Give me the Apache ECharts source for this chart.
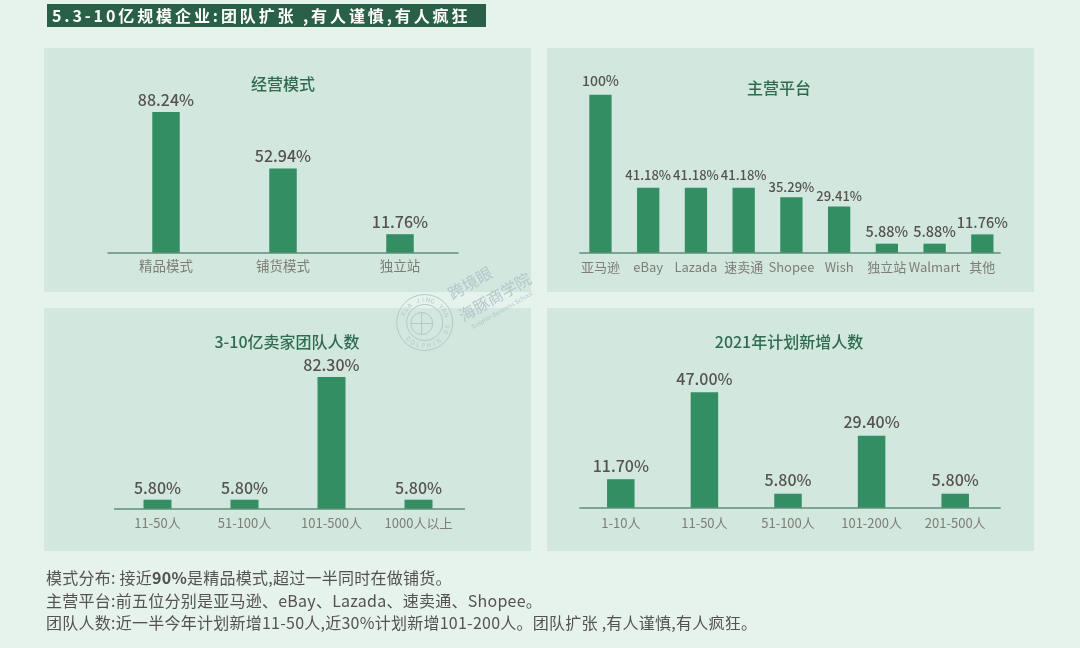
<!DOCTYPE html>
<html>
<head>
<meta charset="utf-8">
<title>5.3-10亿规模企业</title>
<script src="https://cdn.jsdelivr.net/npm/echarts@6/dist/echarts.min.js"></script>
<style>
  html, body { margin: 0; padding: 0; background: #e6f3ec; }
  body { width: 1080px; height: 648px; position: relative; overflow: hidden; font-family: "Noto Sans CJK SC", sans-serif; }
  #chart { position: absolute; left: 0; top: 0; width: 1080px; height: 648px; }
  #banner {
    position: absolute; left: 47px; top: 4px; width: 434px; height: 23px; padding-left: 5px;
    background: #2b6048; color: #fff; font-size: 16px; font-weight: 700; line-height: 23px;
    letter-spacing: 2.9px; white-space: pre;
  }
  #notes {
    position: absolute; left: 46px; top: 566px; color: #55524f; font-size: 16px;
    line-height: 22.5px; letter-spacing: 0.25px; white-space: pre;
  }
  #notes b { font-weight: 700; }
</style>
</head>
<body>
<div id="chart"></div>
<div id="banner">5.3-10亿规模企业:团队扩张 ,有人谨慎,有人疯狂</div>
<div id="notes">模式分布: 接近<b>90%</b>是精品模式,超过一半同时在做铺货。
主营平台:前五位分别是亚马逊、eBay、Lazada、速卖通、Shopee。
团队人数:近一半今年计划新增11-50人,近30%计划新增101-200人。团队扩张 ,有人谨慎,有人疯狂。</div>
<script>
// 数据
const modeNames = ['精品模式', '铺货模式', '独立站']
const modeValues = [88.24, 52.94, 11.76]

const platformNames = ['亚马逊', 'eBay', 'Lazada', '速卖通', 'Shopee', 'Wish', '独立站', 'Walmart', '其他']
const platformValues = [100, 41.18, 41.18, 41.18, 35.29, 29.41, 5.88, 5.88, 11.76]
const platformLabelSizes = [14, 13, 13, 13, 13, 13, 14.5, 14.5, 14.5]
const platformLabelGaps = [7, 6, 6, 6, 4, 4, 5, 5, 5]

const teamNames = ['11-50人', '51-100人', '101-500人', '1000人以上']
const teamValues = [5.8, 5.8, 82.3, 5.8]

const hireNames = ['1-10人', '11-50人', '51-100人', '101-200人', '201-500人']
const hireValues = [11.7, 47, 5.8, 29.4, 5.8]

const myChart = echarts.init(document.getElementById('chart'))

const FONT = '"Noto Sans CJK SC", sans-serif'

// 四个面板的布局
const panels = [
  { title: '经营模式', names: modeNames, values: modeValues, box: [44, 48, 487, 244], titleAt: [283, 84],
    left: 107.5, width: 351, top: 112, bottom: 253, barWidth: 27.5, labelSize: 16, labelGap: 4.5, margin: 6, nameSize: 13.5, rule: [107.5, 458.5, 253] },
  { title: '主营平台', names: platformNames, values: platformValues, sizes: platformLabelSizes, gaps: platformLabelGaps, box: [547, 48, 487, 244], titleAt: [779, 88],
    left: 576.6, width: 429.6, top: 94.7, bottom: 253, barWidth: 22.3, labelSize: 14, labelGap: 5, margin: 8, nameSize: 13, rule: [579.3, 1000.7, 253] },
  { title: '3-10亿卖家团队人数', names: teamNames, values: teamValues, box: [44, 308, 487, 243], titleAt: [287, 342],
    left: 114, width: 348, top: 377, bottom: 509, barWidth: 28, labelSize: 16, labelGap: 4, margin: 8, nameSize: 13, rule: [114, 465, 509] },
  { title: '2021年计划新增人数', names: hireNames, values: hireValues, box: [547, 308, 487, 243], titleAt: [789, 342],
    left: 579, width: 418, top: 392.3, bottom: 508, barWidth: 27.5, labelSize: 16, labelGap: 5.5, margin: 9, nameSize: 13, rule: [579.3, 1000.7, 508] }
]

const pct = v => (v === 100 ? '100%' : v.toFixed(2) + '%')

// 水印
function watermark() {
  const color = '#b3c7cc'
  const cx = 424.7, cy = 322.5
  const els = [
    { type: 'circle', shape: { cx, cy, r: 28 }, style: { fill: 'none', stroke: color, lineWidth: 1 } },
    { type: 'circle', shape: { cx, cy, r: 18 }, style: { fill: 'none', stroke: color, lineWidth: 1 } },
    { type: 'circle', shape: { cx: cx - 3, cy: cy + 1, r: 11 }, style: { fill: 'none', stroke: color, lineWidth: 1 } },
    { type: 'line', shape: { x1: cx - 14, y1: cy + 1, x2: cx + 8, y2: cy + 1 }, style: { stroke: color } },
    { type: 'line', shape: { x1: cx - 3, y1: cy - 10, x2: cx - 3, y2: cy + 12 }, style: { stroke: color } }
  ]
  const ring = (str, start, step) => str.split('').forEach((c, i) => {
    const a = start + i * step
    els.push({ type: 'text', x: cx + 23 * Math.cos(a), y: cy - 23 * Math.sin(a), rotation: a - Math.PI / 2 * (step < 0 ? 1 : -1),
      style: { text: c, font: '6px ' + FONT, fill: color, align: 'center', verticalAlign: 'middle' } })
  })
  ring('KUA JING YAN', 2.75, -0.22)
  ring('DOLPHIN BS', -2.35, 0.24)
  const rot = 0.52
  const texts = [['跨境眼', 470, 283, 16], ['海豚商学院', 495, 297, 16], ['Dolphin Business School', 502, 310, 6]]
  texts.forEach(([text, x, y, size]) => els.push({ type: 'text', x, y, rotation: rot,
    style: { text, font: size + 'px ' + FONT, fill: color, align: 'center', verticalAlign: 'middle' } }))
  return els.map(e => Object.assign(e, { z: 20, silent: true }))
}

const option = {
  backgroundColor: 'transparent',
  textStyle: { fontFamily: FONT },
  title: panels.map(p => ({
    text: p.title, left: p.titleAt[0], top: p.titleAt[1], textAlign: 'center', textVerticalAlign: 'middle',
    padding: 0,
    textStyle: { fontSize: 16, fontWeight: 500, color: '#2f6b50', fontFamily: FONT }
  })),
  grid: panels.map(p => ({ left: p.left, top: p.top, width: p.width, height: p.bottom - p.top, containLabel: false })),
  xAxis: panels.map((p, i) => ({
    type: 'category', gridIndex: i, data: p.names,
    axisLine: { show: false }, axisTick: { show: false }, splitLine: { show: false },
    axisLabel: { interval: 0, fontSize: p.nameSize, color: '#7d7c75', margin: p.margin, fontFamily: FONT }
  })),
  yAxis: panels.map((p, i) => ({
    type: 'value', gridIndex: i, show: false, min: 0, max: Math.max(...p.values), splitLine: { show: false }
  })),
  series: panels.map((p, i) => ({
    type: 'bar', xAxisIndex: i, yAxisIndex: i, barWidth: p.barWidth,
    itemStyle: { color: '#338f63' },
    label: { show: true, position: 'top', distance: p.labelGap, color: '#55524f', fontSize: p.labelSize, fontFamily: FONT, fontWeight: 500,
      formatter: o => pct(o.value) },
    data: p.values.map((v, j) => (p.sizes ? { value: v, label: { fontSize: p.sizes[j], distance: p.gaps[j] } } : v))
  })),
  graphic: { elements: [
    ...panels.map(p => ({ type: 'rect', z: -10, silent: true,
      shape: { x: p.box[0], y: p.box[1], width: p.box[2], height: p.box[3] }, style: { fill: '#d2e8de' } })),
    ...panels.map(p => ({ type: 'line', z: 10, silent: true,
      shape: { x1: p.rule[0], y1: p.rule[2], x2: p.rule[1], y2: p.rule[2] }, style: { stroke: '#5f8f78', lineWidth: 1.3 } })),
    ...watermark()
  ] }
}

myChart.setOption(option)
</script>
</body>
</html>
